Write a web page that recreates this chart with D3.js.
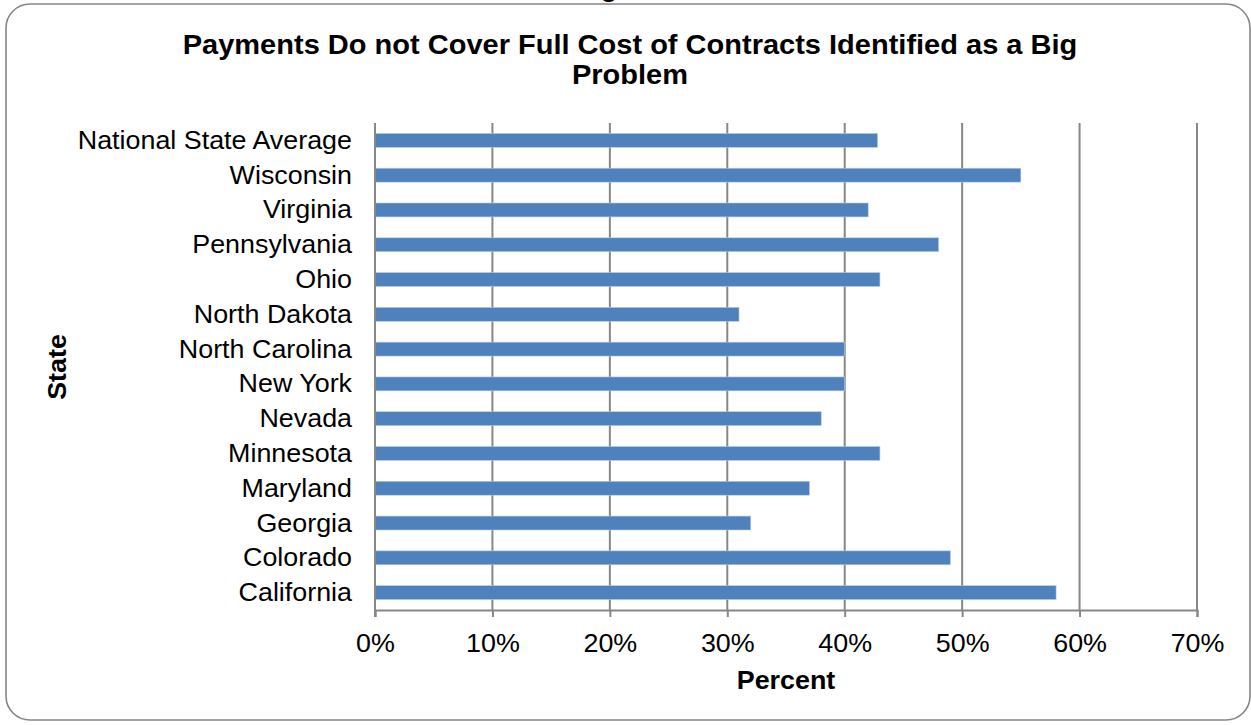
<!DOCTYPE html>
<html>
<head>
<meta charset="utf-8">
<script src="https://cdn.jsdelivr.net/npm/d3@7"></script>
<style>
  html, body { margin: 0; padding: 0; background: #fff; }
  svg { display: block; font-family: "Liberation Sans", Arial, sans-serif; }
</style>
</head>
<body>
<svg id="chart" width="1251" height="725"></svg>
<script>
const titleLines = ["Payments Do not Cover Full Cost of Contracts Identified as a Big", "Problem"];
const states = ["National State Average", "Wisconsin", "Virginia", "Pennsylvania", "Ohio", "North Dakota", "North Carolina", "New York", "Nevada", "Minnesota", "Maryland", "Georgia", "Colorado", "California"];
const percents = [42.8, 55, 42, 48, 43, 31, 40, 40, 38, 43, 37, 32, 49, 58];
const xTicks = [0, 10, 20, 30, 40, 50, 60, 70];
const xAxisTitle = "Percent";
const yAxisTitle = "State";

const svg = d3.select("#chart");
const plot = { left: 375, right: 1197, top: 123, bottom: 610 };
const SX = 1.075;  // slight horizontal stretch of the glyphs in the reference
const FS = 25;     // label font size
const TFS = 27;    // title font size

// outer rounded frame
svg.append("rect")
  .attr("x", 6).attr("y", 4)
  .attr("width", 1244).attr("height", 716)
  .attr("rx", 24).attr("ry", 24)
  .attr("fill", "#fff")
  .attr("stroke", "#858585").attr("stroke-width", 1.6);

// clipped descender of a heading above the frame
svg.append("text")
  .attr("transform", `translate(609,-3) scale(${SX},1)`)
  .attr("text-anchor", "middle")
  .attr("font-size", FS).attr("font-weight", "bold")
  .text("g");

const x = d3.scaleLinear().domain([0, 70]).range([plot.left, plot.right]);
const y = d3.scaleBand().domain(states).range([plot.top, plot.bottom])
  .paddingInner(0.6).paddingOuter(0.3);

// gridlines
svg.append("g").selectAll("line")
  .data(xTicks.filter(d => d > 0))
  .join("line")
  .attr("x1", d => x(d)).attr("x2", d => x(d))
  .attr("y1", plot.top).attr("y2", plot.bottom)
  .attr("stroke", "#878787").attr("stroke-width", 2);

// bars
svg.append("g").selectAll("rect")
  .data(states.map((s, i) => ({ s, v: percents[i] })))
  .join("rect")
  .attr("x", x(0))
  .attr("y", d => y(d.s))
  .attr("width", d => x(d.v) - x(0))
  .attr("height", y.bandwidth())
  .attr("fill", "#4F81BD")
  .attr("stroke", "#b8cce4").attr("stroke-width", 0.6);

// bottom axis
const xAxis = d3.axisBottom(x).tickValues(xTicks).tickFormat(d => d + "%").tickSize(7).tickPadding(17);
const gx = svg.append("g").attr("transform", `translate(0,${plot.bottom})`).call(xAxis);
gx.select(".domain").attr("stroke", "#878787").attr("stroke-width", 2);
gx.selectAll(".tick line").attr("stroke", "#878787").attr("stroke-width", 2);
gx.selectAll(".tick text").attr("font-size", FS).attr("fill", "#000")
  .attr("font-family", "'Liberation Sans', Arial, sans-serif")
  .attr("transform", `scale(${SX},1)`);

// left axis
const yAxis = d3.axisLeft(y).tickSize(0).tickPadding(23);
const gy = svg.append("g").attr("transform", `translate(${plot.left},0)`).call(yAxis);
gy.select(".domain").remove();
gy.selectAll(".tick text").attr("font-size", FS).attr("fill", "#000")
  .attr("font-family", "'Liberation Sans', Arial, sans-serif")
  .attr("x", -23 / SX).attr("dy", "0.34em")
  .attr("transform", `scale(${SX},1)`);
svg.append("line")
  .attr("x1", plot.left).attr("x2", plot.left)
  .attr("y1", plot.top).attr("y2", plot.bottom + 7)
  .attr("stroke", "#878787").attr("stroke-width", 2);

// titles
titleLines.forEach((line, i) => {
  svg.append("text")
    .attr("transform", `translate(630,${54 + i * 30}) scale(${SX},1)`)
    .attr("text-anchor", "middle")
    .attr("font-size", TFS).attr("font-weight", "bold")
    .text(line);
});

svg.append("text")
  .attr("transform", `translate(${(plot.left + plot.right) / 2},689) scale(${SX},1)`)
  .attr("text-anchor", "middle")
  .attr("font-size", FS).attr("font-weight", "bold")
  .text(xAxisTitle);

svg.append("text")
  .attr("transform", `translate(66,367) rotate(-90) scale(${SX},1)`)
  .attr("text-anchor", "middle")
  .attr("font-size", FS).attr("font-weight", "bold")
  .text(yAxisTitle);
</script>
</body>
</html>
